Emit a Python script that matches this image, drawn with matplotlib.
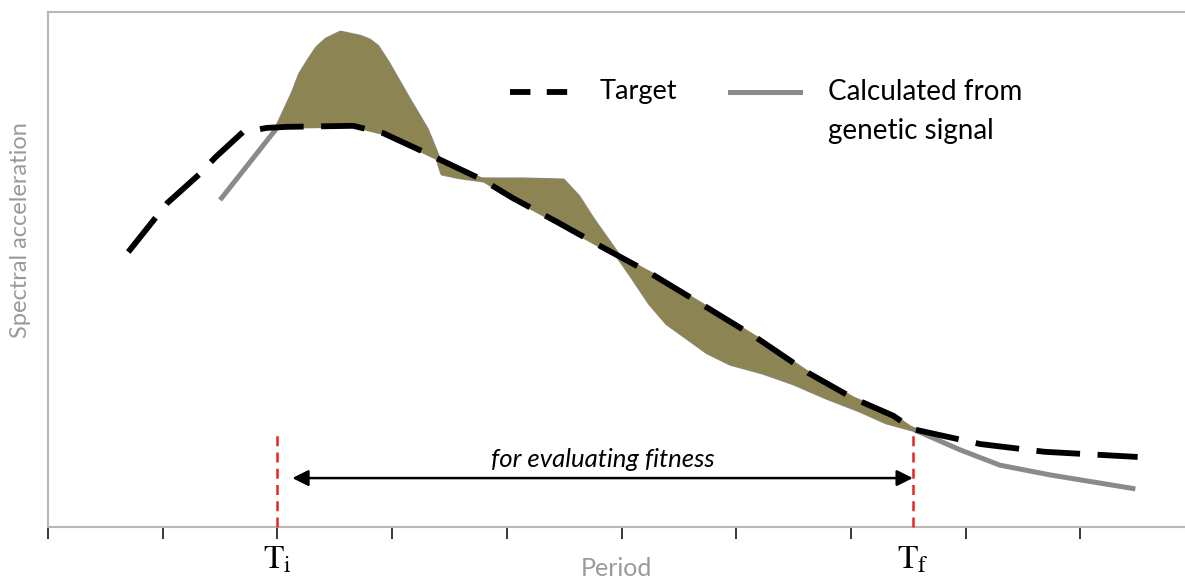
import matplotlib
matplotlib.use("Agg")
import matplotlib.pyplot as plt
import numpy as np

plt.rcParams["font.family"] = ["Lato", "DejaVu Sans"]
plt.rcParams["mathtext.fontset"] = "stix"

# period axis in tick units, spectral acceleration in arbitrary units
target_x = [0.70, 1.04, 1.33, 1.46, 1.70, 1.91, 2.00, 2.08, 2.66, 2.92, 3.24,
            3.42, 3.79, 4.05, 4.44, 4.77, 4.96, 5.25, 5.71, 6.18, 6.63, 7.02,
            7.37, 7.54, 8.13, 8.69, 9.50]
target_y = [5.34, 6.29, 6.87, 7.18, 7.67, 7.75, 7.76, 7.77, 7.79, 7.65, 7.32,
            7.13, 6.74, 6.39, 5.92, 5.51, 5.28, 4.93, 4.31, 3.67, 2.99, 2.50,
            2.16, 1.90, 1.61, 1.46, 1.36]

calc_x = [1.50, 2.00, 2.14, 2.20, 2.28, 2.35, 2.43, 2.55, 2.72, 2.80, 2.87,
          2.96, 3.13, 3.30, 3.39, 3.44, 3.59, 3.79, 4.12, 4.49, 4.62, 4.75,
          4.96, 5.10, 5.25, 5.40, 5.57, 5.75, 5.95, 6.23, 6.50, 6.79, 7.08,
          7.31, 7.54, 7.95, 8.30, 8.74, 9.48]
calc_y = [6.35, 7.76, 8.43, 8.78, 9.07, 9.30, 9.46, 9.59, 9.51, 9.44, 9.32,
          9.01, 8.35, 7.71, 7.22, 6.87, 6.80, 6.74, 6.74, 6.72, 6.41, 5.96,
          5.30, 4.85, 4.35, 3.96, 3.69, 3.40, 3.18, 3.01, 2.80, 2.52, 2.27,
          2.04, 1.90, 1.50, 1.20, 1.01, 0.74]

t_i = 2.0
t_f = 7.54
period_ticks = list(range(10))

fig = plt.figure(figsize=(11.85, 5.79), dpi=100)
ax = fig.add_axes([48 / 1185, 52 / 579, 1137 / 1185, 515 / 579])
ax.set_xlim(0, 1137 / 114.7)
ax.set_ylim(0, 10)

# shaded misfit between target and calculated inside [Ti, Tf]
tx, ty = np.array(target_x), np.array(target_y)
cx, cy = np.array(calc_x), np.array(calc_y)
mt = (tx >= t_i) & (tx <= t_f)
mc = (cx >= t_i) & (cx <= t_f)
poly_x = np.concatenate([cx[mc], tx[mt][::-1]])
poly_y = np.concatenate([cy[mc], ty[mt][::-1]])
ax.fill(poly_x, poly_y, facecolor="#8c8553", edgecolor="#8c8553", lw=2.6,
        joinstyle="round", zorder=3)

ax.plot(calc_x, calc_y, color="#8a8a8a", lw=3.6, solid_capstyle="butt",
        solid_joinstyle="round", zorder=2)
ax.plot(target_x, target_y, color="black", lw=4.2, ls=(0, (7.5, 3)),
        dash_capstyle="butt", zorder=4)

# Ti / Tf markers
ax.plot([t_i, t_i], [0, 1.79], color="#e32626", lw=1.8, ls=(0, (4, 2.5)),
        zorder=5, clip_on=False)
ax.plot([t_f, t_f], [0, 1.88], color="#e32626", lw=1.8, ls=(0, (4, 2.5)),
        zorder=5, clip_on=False)
ax.annotate("", xy=(2.13, 0.95), xytext=(t_f, 0.95),
            arrowprops=dict(arrowstyle="<|-|>", color="black", lw=1.8,
                            mutation_scale=24, shrinkA=0, shrinkB=0))
ax.text((2.13 + t_f) / 2, 1.32, "for evaluating fitness", style="italic",
        ha="center", va="center", fontsize=18.5)

ax.text(t_i, -0.64, r"$\mathrm{T}_\mathrm{i}$", ha="center", va="center",
        fontsize=24, clip_on=False)
ax.text(t_f, -0.64, r"$\mathrm{T}_\mathrm{f}$", ha="center", va="center",
        fontsize=24, clip_on=False)

# legend drawn by hand
ax.plot([4.03, 4.53], [8.45, 8.45], color="black", lw=4.2, ls=(0, (3.5, 2.8)),
        dash_capstyle="butt")
ax.text(4.81, 8.45, "Target", va="center", fontsize=19.5)
ax.plot([5.95, 6.56], [8.45, 8.45], color="#8a8a8a", lw=3.6)
ax.text(6.80, 8.45, "Calculated from", va="center", fontsize=20)
ax.text(6.80, 7.69, "genetic signal", va="center", fontsize=20)

ax.text(0.5, -0.08, "Period", transform=ax.transAxes, ha="center",
        va="center", fontsize=18, color="#9a9a9a")
ax.text(-0.024, 0.577, "Spectral acceleration", transform=ax.transAxes,
        rotation=90, ha="center", va="center", fontsize=17, color="#9a9a9a")

ax.set_xticks(period_ticks)
ax.set_xticklabels([])
ax.set_yticks([])
ax.tick_params(axis="x", direction="out", length=8.5, width=1.1, color="black")
for side in ["left", "top", "bottom"]:
    ax.spines[side].set_color("#b8b8b8")
    ax.spines[side].set_linewidth(1.5)
ax.spines["right"].set_visible(False)

fig.savefig("out.png", dpi=100)
